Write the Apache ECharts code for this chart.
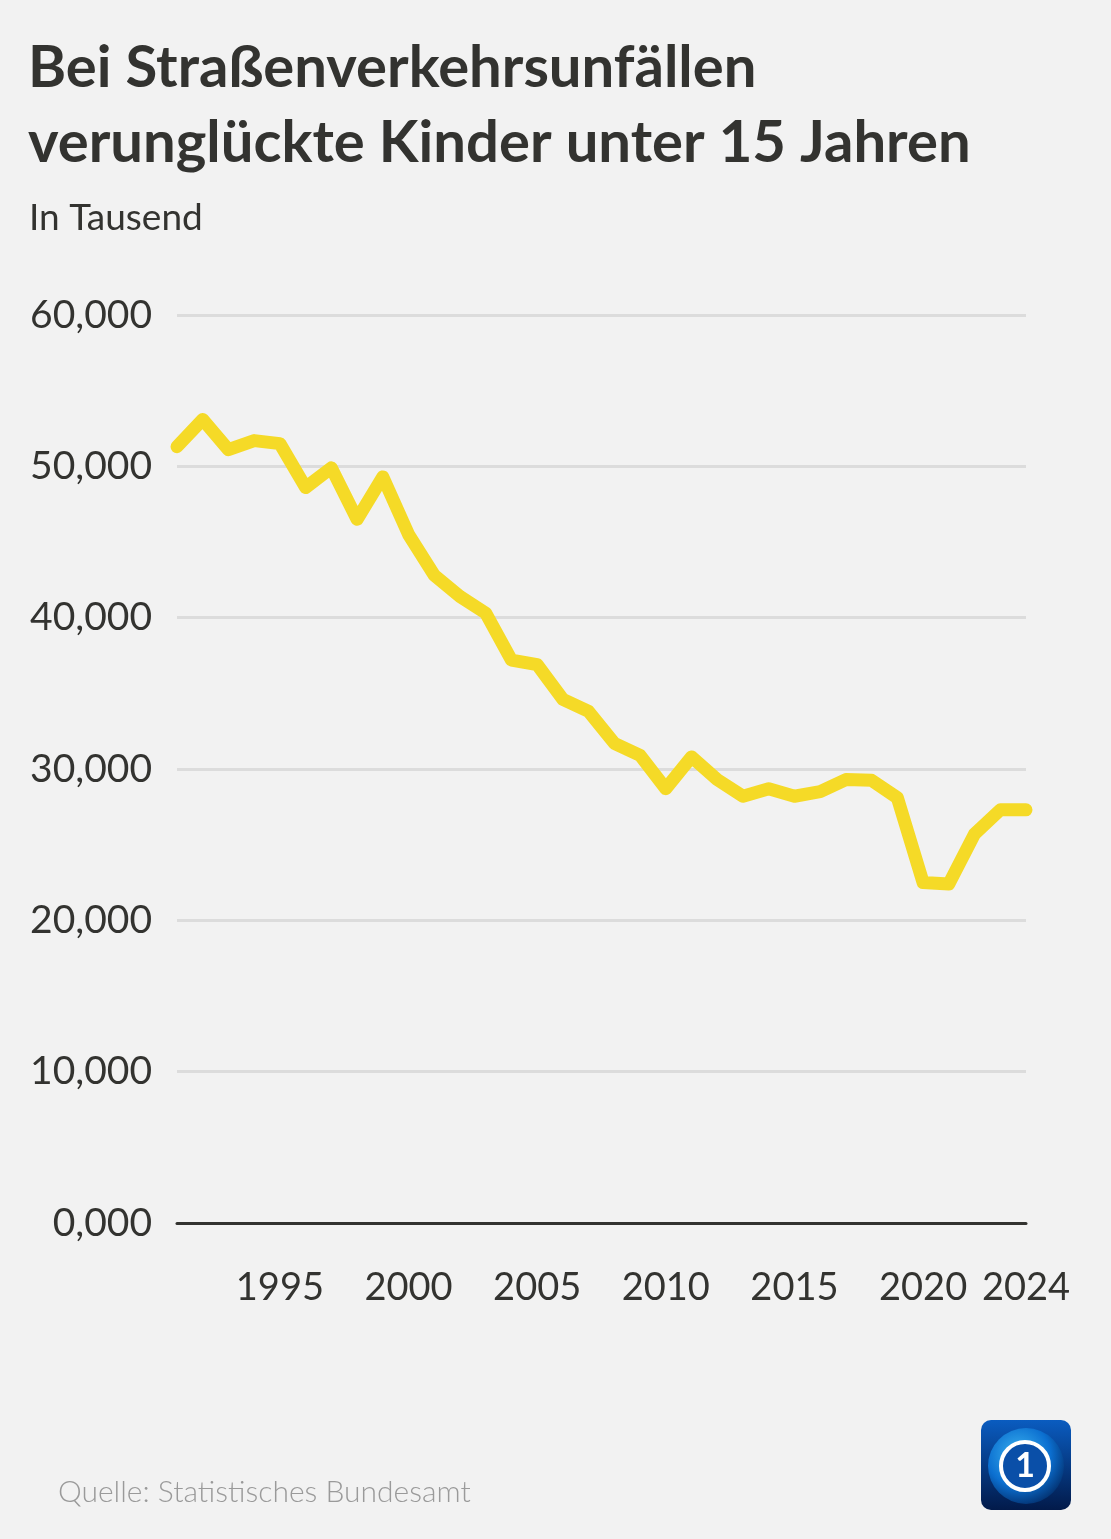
<!DOCTYPE html>
<html><head><meta charset="utf-8">
<script src="https://cdn.jsdelivr.net/npm/echarts@6/dist/echarts.min.js"></script>
<style>html,body{margin:0;padding:0;background:#f2f2f2;}#c{width:1111px;height:1539px;}</style>
</head><body><div id="c"></div>
<script>
const years = ['1991','1992','1993','1994','1995','1996','1997','1998','1999','2000','2001','2002','2003','2004','2005','2006','2007','2008','2009','2010','2011','2012','2013','2014','2015','2016','2017','2018','2019','2020','2021','2022','2023','2024'];
const values = [51300,53100,51100,51700,51500,48600,49900,46500,49300,45500,42800,41400,40300,37200,36900,34600,33800,31700,30900,28700,30800,29300,28200,28700,28200,28500,29300,29250,28100,22500,22400,25700,27300,27300];
const labelYears = ['1995','2000','2005','2010','2015','2020','2024'];
const titleText = 'Bei Straßenverkehrsunfällen\nverunglückte Kinder unter 15 Jahren';
const subtitleText = 'In Tausend';
const sourceText = 'Quelle: Statistisches Bundesamt';

const FONT = 'Lato';
const chart = echarts.init(document.getElementById('c'), null, {renderer:'canvas'});
chart.setOption({
  backgroundColor:'#f2f2f2',
  animation:false,
  title:[{
    text:titleText, left:23, top:26,
    textStyle:{fontFamily:FONT, fontSize:58, fontWeight:'bold', color:'#333330', lineHeight:75}
  },{
    text:subtitleText, left:24, top:195,
    textStyle:{fontFamily:FONT, fontSize:37, fontWeight:'normal', color:'#333330'}
  },{
    text:sourceText, left:53, top:1472,
    textStyle:{fontFamily:FONT, fontSize:30, fontWeight:300, color:'#9a9a9a'}
  }],
  grid:{left:177, right:85, top:315, bottom:316, containLabel:false},
  xAxis:{
    type:'category', data:years, boundaryGap:false,
    axisLine:{show:true, lineStyle:{color:'#333330', width:3}},
    axisTick:{show:false},
    axisLabel:{
      interval:function(i, v){ return labelYears.indexOf(v) >= 0; },
      margin:46, fontFamily:FONT, fontSize:38, color:'#333330'
    },
    splitLine:{show:false}
  },
  yAxis:{
    type:'value', min:0, max:60000, interval:10000,
    axisLine:{show:false}, axisTick:{show:false},
    axisLabel:{
      margin:25, fontFamily:FONT, fontSize:39, color:'#333330',
      formatter:function(v){ return (v/1000) + ',000'; }
    },
    splitLine:{show:true, lineStyle:{color:'#dcdcdc', width:3}}
  },
  series:[{
    type:'line', data:values, symbol:'none',
    lineStyle:{color:'#f5da27', width:13, cap:'round', join:'round'}
  }],
  graphic:[{
    type:'group', left:981, top:1420,
    children:[
      {type:'rect', shape:{x:0,y:0,width:90,height:90,r:10},
       style:{fill:new echarts.graphic.LinearGradient(0,0,0,1,[{offset:0,color:'#0a5cc0'},{offset:1,color:'#021a4a'}])}},
      {type:'circle', shape:{cx:45,cy:46,r:38},
       style:{fill:new echarts.graphic.RadialGradient(0.4,0.35,0.7,[{offset:0,color:'#3cb4f0'},{offset:0.6,color:'#0b6fd0'},{offset:1,color:'#03306e'}])}},
      {type:'circle', shape:{cx:44,cy:46,r:24},
       style:{fill:'#0a4fa8', stroke:'#ffffff', lineWidth:4}},
      {type:'text', style:{text:'1', x:44, y:46, align:'center', verticalAlign:'middle',
        fontFamily:FONT, fontSize:34, fontWeight:'bold', fill:'#ffffff'}}
    ]
  }]
});
</script></body></html>
